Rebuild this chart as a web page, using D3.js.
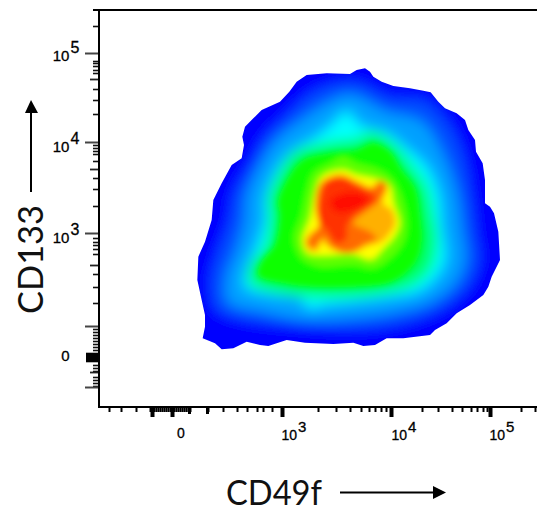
<!DOCTYPE html>
<html><head><meta charset="utf-8">
<script src="https://cdn.jsdelivr.net/npm/d3@7"></script>
<style>html,body{margin:0;padding:0;background:#fff}svg{display:block}</style></head>
<body><svg id="c" width="537" height="512"></svg>
<script>
// Channel units: 3 per pixel of the plot
const xDomain=[-273,1041], yDomain=[-150,1041];
const outerLevels=["#0000ff","#0050ff","#00a0ff","#00ffff","#00ff60"];
const innerLevels=["#10ff00","#60ff00","#ffff00","#ffb000","#ff6a00","#ff3000","#ff1000"];
const outerContour=[[525,25],[540,35],[550,50],[575,65],[610,78],[660,85],[700,92],[722,97],[745,125],[765,145],[800,160],[825,180],[835,210],[855,240],[858,275],[878,310],[885,360],[885,430],[900,440],[912,460],[925,515],[930,600],[905,650],[895,680],[880,705],[840,735],[800,760],[770,790],[735,810],[720,825],[640,835],[590,835],[555,855],[520,858],[490,848],[430,852],[345,848],[290,840],[260,850],[235,858],[210,855],[170,845],[130,865],[95,868],[75,850],[38,835],[45,800],[45,765],[35,720],[22,660],[25,590],[45,545],[65,480],[70,420],[95,370],[125,315],[155,295],[162,255],[157,230],[165,200],[190,175],[215,150],[270,125],[298,95],[320,65],[350,45],[410,40],[480,42],[500,30]];
const blue2Contour=[[500,70],[600,115],[705,125],[775,195],[815,280],[840,400],[855,520],[865,600],[835,675],[755,745],[650,785],[500,805],[300,795],[150,775],[80,745],[65,660],[85,580],[120,480],[135,400],[185,310],[225,235],[295,165],[360,105],[430,75]];
const blue3Contour=[[480,105],[590,155],[695,185],[760,285],[800,400],[815,510],[825,600],[795,670],[725,725],[625,755],[480,775],[350,780],[215,755],[115,725],[110,650],[140,570],[165,480],[170,410],[205,325],[255,245],[335,180],[420,125]];
const cyanContour=[[470,155],[510,195],[590,220],[650,265],[710,320],[745,400],[755,500],[765,600],[730,660],[680,695],[600,710],[480,725],[395,735],[360,745],[330,715],[250,705],[165,680],[170,630],[200,560],[225,480],[225,420],[250,350],[300,280],[380,230],[430,190]];
const springContour=[[545,215],[610,250],[665,315],[710,380],[730,470],[740,540],[725,620],[675,672],[590,700],[480,712],[370,712],[280,702],[180,668],[185,610],[225,560],[240,460],[235,420],[272,330],[315,275],[420,245],[500,235]];
const greenContour=[[550,250],[600,275],[635,330],[675,385],[690,470],[695,540],[680,600],[640,645],[590,670],[480,680],[370,680],[285,670],[205,645],[215,605],[255,555],[270,465],[265,425],[300,345],[340,300],[420,280],[500,270]];
const limeContour=[[460,290],[500,310],[555,325],[600,350],[630,400],[650,490],[640,545],[600,595],[550,625],[490,615],[390,620],[335,595],[312,535],[335,465],[350,395],[370,340],[420,310]];
const yellowContour=[[460,330],[500,345],[560,358],[598,378],[610,430],[628,490],[612,530],[580,565],[545,598],[490,582],[390,585],[352,578],[338,540],[362,470],[375,400],[392,355],[420,337]];
const orangeContour=[[450,342],[505,365],[545,380],[570,360],[592,375],[580,430],[605,450],[615,490],[595,525],[575,545],[530,560],[500,575],[460,580],[420,565],[395,545],[385,570],[360,572],[345,545],[360,520],[385,500],[375,440],[390,370]];
const redOrangeContour=[[450,347],[505,368],[545,385],[570,365],[588,378],[565,425],[520,460],[490,490],[540,515],[560,535],[520,555],[495,572],[460,577],[425,560],[400,530],[385,550],[370,565],[352,548],[365,525],[388,495],[380,440],[393,372]];
const redContour=[[450,355],[500,375],[560,415],[530,445],[490,470],[470,500],[470,535],[440,550],[410,510],[385,480],[395,400],[410,365]];
const coreContour=[[460,400],[510,400],[535,420],[490,450],[440,455],[420,425]];
const outerContours=[blue2Contour,blue3Contour,cyanContour,springContour];
const innerContours=[greenContour,limeContour,yellowContour,orangeContour,redOrangeContour,redContour,coreContour];

const xMajorTicks=[-114,-54,276,603,900];
const xMediumTicks=[-3,51];
const xMinorTicks=[-243,-207,-162,-120,-114,-108,-102,-96,-90,-84,-78,-72,-66,-60,-54,-48,-42,-36,-30,-24,-18,-12,-6,0,54,99,141,171,201,219,246,384,438,480,513,537,555,573,588,696,744,786,816,843,861,879,891,993,1035];
const yMajorTicks=[-21,246,519,798,981];
const yMediumTicks=[57,327,615,936];
const yMinorTicks=[-102,3,9,18,30,39,87,120,162,255,264,273,282,303,354,387,438,534,546,555,567,582,642,681,729,807,816,825,834,843,852,861,870,915,924,933,951,960,969,978];
const yBlackTicks=[879,882,885,888,891,894,897,900,903];
const xTickLabels=[[181,null,"0",438],[294,"3","10",440],[404,"4","10",440],[502,"5","10",440]];
const yTickLabels=[[53,"5","10",61],[144,"4","10",152],[235,"3","10",243],[356,null,"0",361]];

const svg=d3.select("#c");
const x=d3.scaleLinear().domain(xDomain).range([99,537]);
const y=d3.scaleLinear().domain(yDomain).range([10,407]);
const line=d3.line().x(d=>x(d[0])).y(d=>y(d[1]));
const smooth=d3.line().x(d=>x(d[0])).y(d=>y(d[1])).curve(d3.curveCatmullRomClosed.alpha(0.5));
const defs=svg.append("defs");
defs.append("clipPath").attr("id","edge").append("path").attr("d",line.curve(d3.curveLinearClosed)(outerContour));
function blur(id,s){defs.append("filter").attr("id",id).attr("filterUnits","userSpaceOnUse").attr("x",0).attr("y",0).attr("width",537).attr("height",512).append("feGaussianBlur").attr("stdDeviation",s);}
blur("blurOuter",6.5); blur("blurInner",3.2);
const clip=svg.append("g").attr("clip-path","url(#edge)");
const g=clip.append("g").attr("filter","url(#blurOuter)");
g.append("rect").attr("x",150).attr("y",30).attr("width",387).attr("height",360).attr("fill",outerLevels[0]);
g.selectAll("path").data(outerContours).join("path").attr("d",smooth).attr("fill",(d,i)=>outerLevels[i+1]);
const h=clip.append("g").attr("filter","url(#blurInner)");
h.selectAll("path").data(innerContours).join("path").attr("d",smooth).attr("fill",(d,i)=>innerLevels[i]);

function style(a,w,col){a.select(".domain").remove();a.selectAll("line").attr("stroke",col||"#000").attr("stroke-width",w);a.selectAll("text").remove();}
const xAt=`translate(0,407)`, yAt=`translate(99,0)`;
svg.append("g").attr("transform",xAt).call(d3.axisBottom(x).tickValues(xMinorTicks).tickSize(5).tickSizeOuter(0)).call(a=>style(a,2));
svg.append("g").attr("transform",xAt).call(d3.axisBottom(x).tickValues(xMediumTicks).tickSize(7).tickSizeOuter(0)).call(a=>style(a,3));
svg.append("g").attr("transform",xAt).call(d3.axisBottom(x).tickValues(xMajorTicks).tickSize(10).tickSizeOuter(0)).call(a=>style(a,4));
svg.append("g").attr("transform",yAt).call(d3.axisLeft(y).tickValues(yMinorTicks).tickSize(6).tickSizeOuter(0)).call(a=>style(a,1.6,"#111"));
svg.append("g").attr("transform",yAt).call(d3.axisLeft(y).tickValues(yMediumTicks).tickSize(9).tickSizeOuter(0)).call(a=>style(a,1.8,"#222"));
svg.append("g").attr("transform",yAt).call(d3.axisLeft(y).tickValues(yMajorTicks).tickSize(14).tickSizeOuter(0)).call(a=>style(a,2,"#444"));
svg.append("g").attr("transform",yAt).call(d3.axisLeft(y).tickValues(yBlackTicks).tickSize(13).tickSizeOuter(0)).call(a=>style(a,1.6));
// axis frame
svg.append("path").attr("d","M93,10H537M99,10V407H537").attr("fill","none").attr("stroke","#000").attr("stroke-width",2);

function tickLabel(px,py,base,exp,fs){
  const t=svg.append("text").attr("x",px).attr("y",py).attr("text-anchor","middle").attr("font-family","Liberation Sans").attr("font-size",fs).attr("fill","#000").attr("stroke","#000").attr("stroke-width",0.3);
  t.append("tspan").text(base);
  if(exp) t.append("tspan").attr("dy",-8).attr("dx",1).attr("font-size",fs+1).text(exp);
}
xTickLabels.forEach(d=>tickLabel(d[0],d[3],d[2],d[1],14));
yTickLabels.forEach(d=>tickLabel(d[1]?66:65.5,d[3],d[2],d[1],15));

svg.append("text").attr("x",226).attr("y",505).attr("font-family","Lato").attr("font-size",35).attr("textLength",96).attr("lengthAdjust","spacingAndGlyphs").attr("fill","#111").text("CD49f");
svg.append("text").attr("transform","translate(43,314) rotate(-90)").attr("font-family","Lato").attr("font-size",35).attr("textLength",109).attr("lengthAdjust","spacingAndGlyphs").attr("fill","#111").text("CD133");
svg.append("path").attr("d","M31,192V110").attr("stroke","#000").attr("stroke-width",2);
svg.append("path").attr("d","M31,100L38,113H25Z").attr("fill","#000");
svg.append("path").attr("d","M340,492.5H436").attr("stroke","#000").attr("stroke-width",2);
svg.append("path").attr("d","M446,492.5L433,486V499Z").attr("fill","#000");
</script></body></html>
